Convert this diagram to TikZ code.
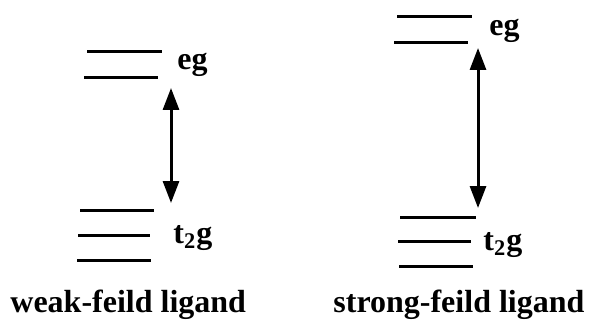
\documentclass[tikz,border=0pt]{standalone}
\usepackage{fontspec}
\setmainfont{Liberation Serif}
\usetikzlibrary{arrows.meta}
\begin{document}
\begin{tikzpicture}[
    x=0.5pt,
    y=-0.5pt,
    level/.style={
        line width=1.5pt
    },
    orbital label/.style={
        font=\fontsize{16}{19}\selectfont\bfseries,
        inner sep=0pt,
        anchor=base west
    },
    ligand label/.style={
        font=\fontsize{16}{19}\selectfont\bfseries,
        inner sep=0pt,
        anchor=base west
    },
    splitting/.style={
        {Triangle[length=11pt,width=8pt]}-{Triangle[length=11pt,width=8pt]},
        line width=1.5pt
    }
]

\useasboundingbox (0,0) rectangle (592,320);

%% --- Champ faible : niveaux eg ---
\draw[level] (87,52) -- (162,52);
\draw[level] (84,78) -- (158,78);
\node[orbital label] (egW) at (177,70) {eg};

%% --- Champ faible : niveaux t2g ---
\draw[level] (80,210) -- (154,210);
\draw[level] (78,235) -- (150,235);
\draw[level] (77,260) -- (151,260);
\node[orbital label] (tW) at (173,243) {t\textsubscript{2}g};

%% --- Champ fort : niveaux eg ---
\draw[level] (397,17) -- (472,17);
\draw[level] (394,43) -- (468,43);
\node[orbital label] (egS) at (489,36) {eg};

%% --- Champ fort : niveaux t2g ---
\draw[level] (400,217) -- (476,217);
\draw[level] (398,241) -- (471,241);
\draw[level] (399,266) -- (473,266);
\node[orbital label] (tS) at (483,250) {t\textsubscript{2}g};

%% --- Écarts d'énergie ---
\coordinate (gapWtop) at (171,88);
\coordinate (gapWbot) at (171,203);
\coordinate (gapStop) at (478,48);
\coordinate (gapSbot) at (478,208);
\draw[splitting] (gapWtop) -- (gapWbot);
\draw[splitting] (gapStop) -- (gapSbot);

%% --- Étiquettes des ligands ---
\node[ligand label] (weak)   at (10,312)  {weak-feild ligand};
\node[ligand label] (strong) at (333,312) {strong-feild ligand};

\end{tikzpicture}
\end{document}
